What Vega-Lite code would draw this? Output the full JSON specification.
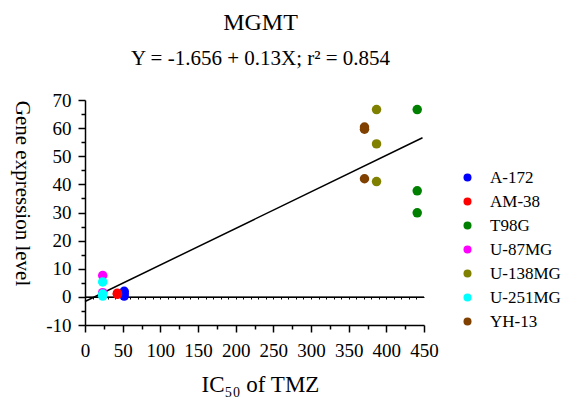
{
  "$schema": "https://vega.github.io/schema/vega-lite/v6.json",
  "width": 339,
  "height": 225,
  "autosize": "none",
  "padding": {"left": 85, "top": 100, "right": 142, "bottom": 73},
  "background": "white",
  "config": {
    "font": "Liberation Serif",
    "view": {"stroke": null},
    "axis": {
      "grid": false,
      "domainColor": "black",
      "tickColor": "black",
      "labelColor": "black",
      "titleColor": "black",
      "labelFont": "Liberation Serif",
      "titleFont": "Liberation Serif",
      "titleFontWeight": "normal",
      "labelFontSize": 19,
      "titleFontSize": 21,
      "domainWidth": 1.5,
      "tickWidth": 1.5,
      "labelOverlap": false,
      "labelFlush": false,
      "labelBound": false
    }
  },
  "title": {
    "text": "MGMT",
    "subtitle": "Y = -1.656 + 0.13X; r² = 0.854",
    "font": "Liberation Serif",
    "fontSize": 24,
    "fontWeight": "normal",
    "color": "black",
    "subtitleFont": "Liberation Serif",
    "subtitleFontSize": 21,
    "subtitleColor": "black",
    "frame": "group",
    "anchor": "middle",
    "dx": 6,
    "offset": 22,
    "subtitlePadding": 13
  },
  "datasets": {
    "fit": [
      {"ic50": 0, "expr": -1.656},
      {"ic50": 448, "expr": 56.58}
    ],
    "zero": [
      {"ic50": 0, "ic50end": 450, "expr": 0}
    ],
    "points": [
      {"cell": "A-172", "ic50": 52, "expr": 2.0},
      {"cell": "A-172", "ic50": 52, "expr": 0.3},
      {"cell": "A-172", "ic50": 52, "expr": 1.2},
      {"cell": "AM-38", "ic50": 43, "expr": 1.3},
      {"cell": "AM-38", "ic50": 43, "expr": 0.9},
      {"cell": "T98G", "ic50": 441, "expr": 66.6},
      {"cell": "T98G", "ic50": 441, "expr": 37.7},
      {"cell": "T98G", "ic50": 441, "expr": 29.9},
      {"cell": "U-87MG", "ic50": 23.5, "expr": 7.6},
      {"cell": "U-87MG", "ic50": 23.5, "expr": 1.5},
      {"cell": "U-138MG", "ic50": 387, "expr": 66.6},
      {"cell": "U-138MG", "ic50": 387, "expr": 54.4},
      {"cell": "U-138MG", "ic50": 387, "expr": 41.0},
      {"cell": "U-251MG", "ic50": 23.5, "expr": 5.3},
      {"cell": "U-251MG", "ic50": 23.5, "expr": 0.3},
      {"cell": "U-251MG", "ic50": 23.5, "expr": 1.0},
      {"cell": "YH-13", "ic50": 371, "expr": 60.4},
      {"cell": "YH-13", "ic50": 371, "expr": 59.6},
      {"cell": "YH-13", "ic50": 371, "expr": 42.0}
    ]
  },
  "layer": [
    {
      "data": {"name": "zero"},
      "mark": {"type": "rule", "color": "black", "strokeWidth": 1},
      "encoding": {
        "x": {
          "field": "ic50",
          "type": "quantitative",
          "scale": {"domain": [0, 450], "nice": false, "zero": false},
          "axis": {
            "orient": "bottom",
            "offset": -28,
            "values": [10, 20, 30, 40, 50, 60, 70, 80, 90, 100, 110, 120, 130, 140, 150, 160, 170, 180, 190, 200, 210, 220, 230, 240, 250, 260, 270, 280, 290, 300, 310, 320, 330, 340, 350, 360, 370, 380, 390, 400, 410, 420, 430, 440],
            "labels": false,
            "title": null,
            "tickSize": 2,
            "tickWidth": 1,
            "domainWidth": 1
          }
        },
        "x2": {"field": "ic50end"},
        "y": {
          "field": "expr",
          "type": "quantitative",
          "scale": {"domain": [-10, 70], "nice": false, "zero": false},
          "axis": {
            "orient": "left",
            "title": "Gene expression level",
            "values": [-10, -5, 0, 5, 10, 15, 20, 25, 30, 35, 40, 45, 50, 55, 60, 65, 70],
            "labelExpr": "datum.value % 10 === 0 ? '' + datum.value : ''",
            "labelOverlap": false,
            "tickSize": {"condition": {"test": "datum.value % 10 === 0", "value": 7}, "value": 4},
            "labelPadding": 7,
            "titleAngle": 90,
            "titleX": -64,
            "titleY": 93,
            "titleBaseline": "middle",
            "titleAlign": "center"
          }
        }
      }
    },
    {
      "data": {"name": "fit"},
      "mark": {"type": "line", "color": "black", "strokeWidth": 1.5},
      "encoding": {
        "x": {
          "field": "ic50",
          "type": "quantitative",
          "axis": {
            "orient": "bottom",
            "title": "IC₅₀ of TMZ",
            "values": [0, 25, 50, 75, 100, 125, 150, 175, 200, 225, 250, 275, 300, 325, 350, 375, 400, 425, 450],
            "labelExpr": "datum.value % 50 === 0 ? '' + datum.value : ''",
            "labelOverlap": false,
            "tickSize": {"condition": {"test": "datum.value % 50 === 0", "value": 7}, "value": 4},
            "labelPadding": 9,
            "titleFontSize": 23,
            "titleX": 175,
            "titleY": 66,
            "titleBaseline": "alphabetic",
            "titleAlign": "center"
          }
        },
        "y": {"field": "expr", "type": "quantitative", "axis": null}
      }
    },
    {
      "data": {"name": "points"},
      "mark": {"type": "circle", "size": 90, "opacity": 1},
      "encoding": {
        "x": {"field": "ic50", "type": "quantitative", "axis": null},
        "y": {"field": "expr", "type": "quantitative", "axis": null},
        "color": {
          "field": "cell",
          "type": "nominal",
          "scale": {
            "domain": ["A-172", "AM-38", "T98G", "U-87MG", "U-138MG", "U-251MG", "YH-13"],
            "range": ["#0000ff", "#ff0000", "#008000", "#ff00ff", "#808000", "#00ffff", "#804000"]
          },
          "legend": {
            "title": null,
            "orient": "none",
            "legendX": 374,
            "legendY": 69,
            "labelFont": "Liberation Serif",
            "labelFontSize": 17,
            "labelColor": "black",
            "symbolType": "circle",
            "symbolSize": 64,
            "symbolStrokeWidth": 0,
            "rowPadding": 6,
            "labelOffset": 14
          }
        }
      }
    }
  ],
  "resolve": {"axis": {"x": "independent", "y": "independent"}}
}
